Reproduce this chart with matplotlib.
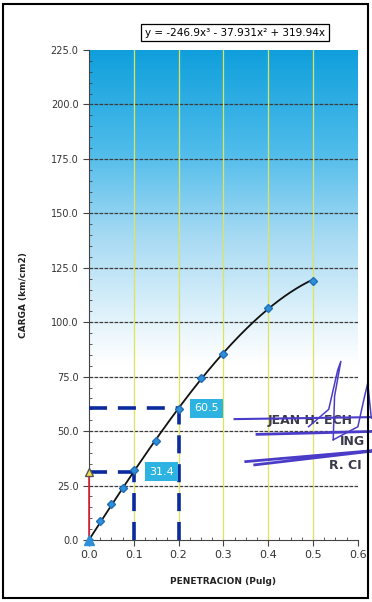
import numpy as np
import matplotlib.pyplot as plt
from matplotlib.colors import LinearSegmentedColormap
from matplotlib.patches import Rectangle

# penetracion vs carga
penetracion = [0.0, 0.025, 0.05, 0.075, 0.1, 0.15, 0.2, 0.25, 0.3, 0.4, 0.5]
carga = [0.0, 8.5, 16.5, 24.0, 32.0, 45.5, 60.0, 74.5, 85.5, 106.5, 119.0]

# polynomial fit (3rd order, no intercept)
coef = [-246.9, -37.931, 319.94, 0.0]
ecuacion = 'y = -246.9x³ - 37.931x² + 319.94x'

# values read at 0.1" and 0.2"
pen_ref = [0.1, 0.2]
carga_ref = [31.4, 60.5]

fig = plt.figure(figsize=(3.72, 6.02), dpi=100)
ax = fig.add_axes([0.239, 0.103, 0.723, 0.814])
ax.set_xlim(0, 0.6)
ax.set_ylim(0, 225)

# background gradient, blue at top fading to white
cmap = LinearSegmentedColormap.from_list('fondo', [(0.0, '#ffffff'), (0.36, '#ffffff'),
                                                   (0.45, '#e2f3fb'), (0.62, '#a6daf3'),
                                                   (0.8, '#4cbbea'), (1.0, '#0f9fdc')])
grad = np.linspace(0, 1, 256).reshape(-1, 1)
ax.imshow(grad, extent=[0, 0.6, 0, 225], origin='lower', aspect='auto', cmap=cmap, zorder=0)

# grid
for y in np.arange(25, 225, 25):
    ax.axhline(y, color='#3c3c3c', lw=0.9, ls=(0, (3, 1)), zorder=1)
for x in np.arange(0.1, 0.6, 0.1):
    ax.axvline(x, color='#dfe35a', lw=0.9, zorder=1)

# fitted curve
xs = np.linspace(0, 0.5, 200)
ax.plot(xs, np.polyval(coef, xs), color='#111111', lw=1.3, zorder=4)
ax.plot(penetracion, carga, ls='none', marker='D', ms=4.5, color='#2f8fd8',
        mec='#1f6fb8', zorder=5)

# reference dashed lines
for px, cy in zip(pen_ref, carga_ref):
    ax.plot([0, px], [cy, cy], color='#0a2a9e', lw=2.6, ls=(0, (5, 3)), zorder=3)
    ax.plot([px, px], [0, cy], color='#0a2a9e', lw=2.6, ls=(0, (5, 3)), zorder=3)

ax.plot([0, 0], [0, carga_ref[0]], color='#e0203a', lw=1.2, zorder=3, clip_on=False)
ax.plot([0], [carga_ref[0]], marker='^', ms=6, color='#f2e04a', mec='#555555', zorder=6,
        clip_on=False)
ax.plot([0], [0], marker='^', ms=7, color='#2f8fd8', zorder=6, clip_on=False)

box = dict(boxstyle='square,pad=0.4', fc='#2cb3e2', ec='none')
ax.text(0.162, carga_ref[0], f'{carga_ref[0]:.1f}', color='white', fontsize=8,
        ha='center', va='center', bbox=box, zorder=7)
ax.text(0.262, carga_ref[1], f'{carga_ref[1]:.1f}', color='white', fontsize=8,
        ha='center', va='center', bbox=box, zorder=7)

# axes styling
for s in ['top', 'right']:
    ax.spines[s].set_visible(False)
for s in ['left', 'bottom']:
    ax.spines[s].set_color('#444444')
ax.set_xticks(np.arange(0, 0.61, 0.1))
ax.set_xticklabels([f'{v:.1f}' for v in np.arange(0, 0.61, 0.1)])
ax.set_yticks(np.arange(0, 226, 25))
ax.set_yticklabels([f'{v:.1f}' for v in np.arange(0, 226, 25)])
ax.set_xticks(np.arange(0, 0.6, 0.025), minor=True)
ax.set_yticks(np.arange(0, 225, 5), minor=True)
ax.tick_params(which='major', direction='out', length=4, color='#444444', labelsize=8,
               labelcolor='#333333')
ax.tick_params(which='minor', direction='in', length=2.5, color='#444444')
ax.tick_params(axis='y', labelsize=7)
ax.set_xlabel('PENETRACION (Pulg)', fontsize=6.5, labelpad=12, fontweight='bold',
              color='#222222')
ax.set_ylabel('CARGA (km/cm2)', fontsize=6.5, labelpad=16, fontweight='bold',
              color='#222222')

# equation label
fig.text(0.632, 0.946, ecuacion, fontsize=7.5, ha='center', va='center',
         bbox=dict(boxstyle='square,pad=0.35', fc='white', ec='black', lw=0.9))

# engineer's stamp and signature
stamp = dict(color='#3a3a4a', fontsize=9, fontweight='bold', zorder=8, clip_on=False,
             family=['Liberation Sans Narrow', 'DejaVu Sans'])
ax.text(0.398, 55, 'JEAN H. ECH', ha='left', va='center', **stamp)
ax.text(0.56, 45, 'ING', ha='left', va='center', **stamp)
ax.text(0.535, 34, 'R. CI', ha='left', va='center', **stamp)
sig = '#4b3cc8'
ax.plot([0.325, 0.66], [55.5, 56.5], color=sig, lw=1.5, zorder=9, clip_on=False)
ax.plot([0.375, 0.66], [48.5, 50.0], color=sig, lw=2.0, zorder=9, clip_on=False)
ax.plot([0.35, 0.66, 0.37], [36.0, 41.5, 34.5], color=sig, lw=2.0, zorder=9, clip_on=False)
ax.plot([0.49, 0.535, 0.555, 0.562, 0.548, 0.545], [52, 60, 78, 82, 66, 46],
        color=sig, lw=1.1, zorder=9, clip_on=False)
ax.plot([0.545, 0.6, 0.615, 0.622, 0.63, 0.66], [46, 52, 66, 72, 56, 54],
        color=sig, lw=1.1, zorder=9, clip_on=False)

# outer frame
fig.patches.append(Rectangle((0.008, 0.006), 0.982, 0.988, transform=fig.transFigure,
                             fill=False, ec='black', lw=1.5))

fig.savefig('out.png', dpi=100)
